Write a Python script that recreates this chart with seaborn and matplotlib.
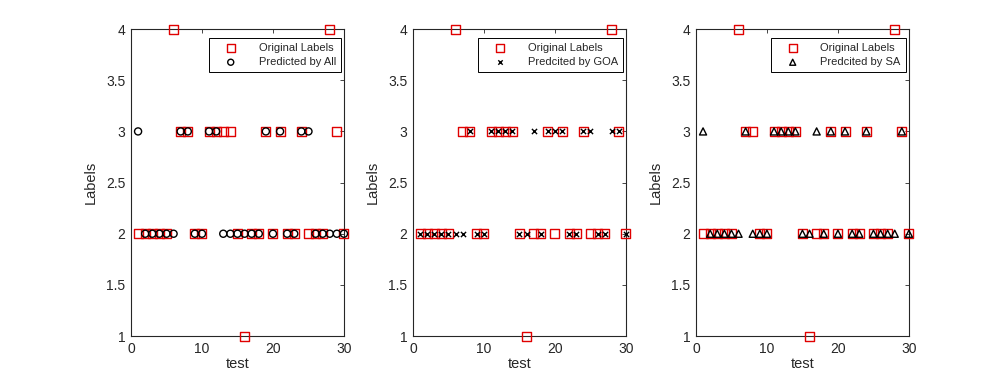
import numpy as np
import pandas as pd
import seaborn as sns
import matplotlib.pyplot as plt

# test sample index and labels
test = list(range(1, 31))
original = [2, 2, 2, 2, 2, 4, 3, 3, 2, 2, 3, 3, 3, 3, 2,
            1, 2, 2, 3, 2, 3, 2, 2, 3, 2, 2, 2, 4, 3, 2]
pred_all = [3, 2, 2, 2, 2, 2, 3, 3, 2, 2, 3, 3, 2, 2, 2,
            2, 2, 2, 3, 2, 3, 2, 2, 3, 3, 2, 2, 2, 2, 2]
pred_goa = [2, 2, 2, 2, 2, 2, 2, 3, 2, 2, 3, 3, 3, 3, 2,
            2, 3, 2, 3, 3, 3, 2, 2, 3, 3, 2, 2, 3, 3, 2]
pred_sa = [3, 2, 2, 2, 2, 2, 3, 2, 2, 2, 3, 3, 3, 3, 2,
           2, 3, 2, 3, 2, 3, 2, 2, 3, 2, 2, 2, 2, 3, 2]

pred_names = ['Predicted by All', 'Predcited by GOA', 'Predcited by SA']
pred_marks = ['o', 'x', '^']
preds = [pred_all, pred_goa, pred_sa]

sns.set_style('white')
plt.rcParams['font.family'] = ['Liberation Sans', 'DejaVu Sans']

fig = plt.figure(figsize=(10.06, 3.78), dpi=100)
lefts = [0.1302, 0.4105, 0.6918]

for i in range(3):
    ax = fig.add_axes([lefts[i], 0.111, 0.2117, 0.812])
    df = pd.DataFrame({'test': test, 'orig': original, 'pred': preds[i]})
    sns.scatterplot(data=df, x='test', y='orig', ax=ax, marker='s', s=42,
                    facecolor='none', edgecolor='#e00000', linewidth=1.0,
                    label='Original Labels', clip_on=False, zorder=3)
    if pred_marks[i] == 'x':
        sns.scatterplot(data=df, x='test', y='pred', ax=ax, marker='x', s=14,
                        color='black', linewidth=1.0, label=pred_names[i],
                        clip_on=False, zorder=4)
    else:
        sns.scatterplot(data=df, x='test', y='pred', ax=ax, marker=pred_marks[i],
                        s=26, facecolor='none', edgecolor='black', linewidth=1.0,
                        label=pred_names[i], clip_on=False, zorder=4)
    ax.set_xlim(0, 30)
    ax.set_ylim(1, 4)
    ax.set_xticks([0, 10, 20, 30])
    ax.set_yticks(np.arange(1, 4.01, 0.5))
    ax.set_yticklabels(['1', '1.5', '2', '2.5', '3', '3.5', '4'])
    ax.tick_params(direction='in', length=3, width=0.6, top=True, right=True,
                   labelsize=10, colors='#262626', pad=4)
    for sp in ax.spines.values():
        sp.set_color('#262626')
        sp.set_linewidth(0.8)
    ax.set_xlabel('test', fontsize=10.5, color='#262626', labelpad=1)
    ax.set_ylabel('Labels', fontsize=10.5, color='#262626', labelpad=6)
    leg = ax.legend(loc='upper right', bbox_to_anchor=(0.985, 0.972),
                    fontsize=8, frameon=True, fancybox=False,
                    edgecolor='black', framealpha=1, borderaxespad=0,
                    handletextpad=1.0, handlelength=3.0, borderpad=0.45,
                    labelspacing=0.4, markerscale=0.85)
    leg.get_frame().set_linewidth(0.7)

plt.savefig('out.png', dpi=100)
